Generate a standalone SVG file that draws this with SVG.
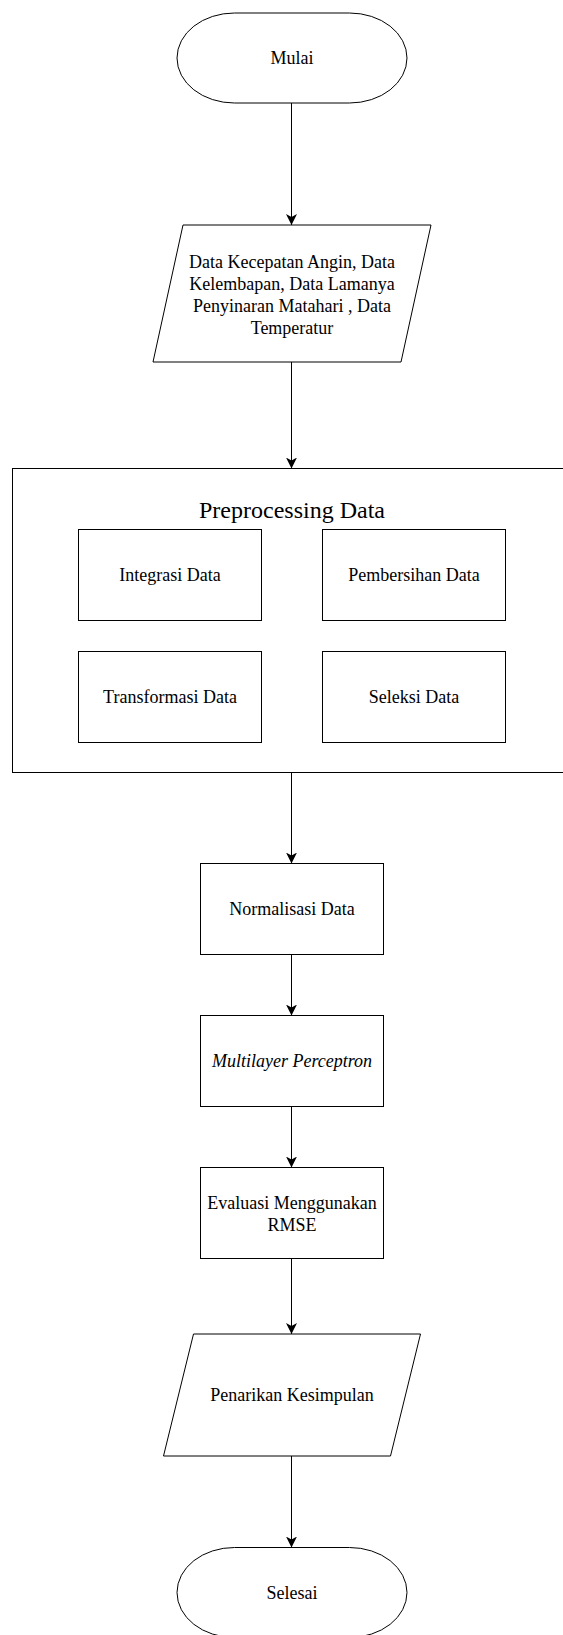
<svg xmlns="http://www.w3.org/2000/svg" width="563" height="1635" viewBox="0 0 563 1635">
  <style>
    .shape { fill: #ffffff; stroke: #000000; stroke-width: 1; }
    .label { font-family: "Liberation Serif", "Times New Roman", serif; font-size: 18px; fill: #000000; text-anchor: middle; }
    .title { font-family: "Liberation Serif", "Times New Roman", serif; font-size: 24px; fill: #000000; text-anchor: middle; }
    .edge { fill: none; stroke: #000000; stroke-width: 1; }
  </style>
  <defs>
    <marker id="arrow" viewBox="0 0 11 11" refX="11" refY="5.5" markerWidth="11" markerHeight="11" markerUnits="userSpaceOnUse" orient="auto">
      <path d="M0,0 L11,5.5 L0,11 L3,5.5 Z" fill="#000000"/>
    </marker>
  </defs>
  <rect x="0" y="0" width="563" height="1635" fill="#ffffff"/>

  <g id="mulai">
    <path class="shape" d="M234.5,13 L349.5,13 A57.5,45 0 0 1 349.5,103 L234.5,103 A57.5,45 0 0 1 234.5,13 Z"/>
    <text class="label" x="292" y="64">Mulai</text>
  </g>

  <g id="input-data">
    <polygon class="shape" points="183,225 431,225 401,362 153,362"/>
    <text class="label" x="292" y="267.5">Data Kecepatan Angin, Data</text>
    <text class="label" x="292" y="289.5">Kelembapan, Data Lamanya</text>
    <text class="label" x="292" y="311.5">Penyinaran Matahari , Data</text>
    <text class="label" x="292" y="333.5">Temperatur</text>
  </g>

  <g id="preprocessing">
    <rect class="shape" x="12.5" y="468.5" width="560" height="304"/>
    <text class="title" x="292" y="518">Preprocessing Data</text>
  </g>

  <g id="integrasi">
    <rect class="shape" x="78.5" y="529.5" width="183" height="91"/>
    <text class="label" x="170" y="581">Integrasi Data</text>
  </g>

  <g id="pembersihan">
    <rect class="shape" x="322.5" y="529.5" width="183" height="91"/>
    <text class="label" x="414" y="581">Pembersihan Data</text>
  </g>

  <g id="transformasi">
    <rect class="shape" x="78.5" y="651.5" width="183" height="91"/>
    <text class="label" x="170" y="703">Transformasi Data</text>
  </g>

  <g id="seleksi">
    <rect class="shape" x="322.5" y="651.5" width="183" height="91"/>
    <text class="label" x="414" y="703">Seleksi Data</text>
  </g>

  <g id="normalisasi">
    <rect class="shape" x="200.5" y="863.5" width="183" height="91"/>
    <text class="label" x="292" y="915">Normalisasi Data</text>
  </g>

  <g id="mlp">
    <rect class="shape" x="200.5" y="1015.5" width="183" height="91"/>
    <text class="label" x="292" y="1067" font-style="italic">Multilayer Perceptron</text>
  </g>

  <g id="evaluasi">
    <rect class="shape" x="200.5" y="1167.5" width="183" height="91"/>
    <text class="label" x="292" y="1208.5">Evaluasi Menggunakan</text>
    <text class="label" x="292" y="1230.5">RMSE</text>
  </g>

  <g id="kesimpulan">
    <polygon class="shape" points="193.5,1334 420.5,1334 390.5,1456 163.5,1456"/>
    <text class="label" x="292" y="1401">Penarikan Kesimpulan</text>
  </g>

  <g id="selesai">
    <path class="shape" d="M234.5,1547.5 L349.5,1547.5 A57.5,45 0 0 1 349.5,1637.5 L234.5,1637.5 A57.5,45 0 0 1 234.5,1547.5 Z"/>
    <text class="label" x="292" y="1598.5">Selesai</text>
  </g>

  <g id="connectors">
    <line class="edge" x1="291.5" y1="103" x2="291.5" y2="225" marker-end="url(#arrow)"/>
    <line class="edge" x1="291.5" y1="362" x2="291.5" y2="468.5" marker-end="url(#arrow)"/>
    <line class="edge" x1="291.5" y1="772.5" x2="291.5" y2="863.5" marker-end="url(#arrow)"/>
    <line class="edge" x1="291.5" y1="954.5" x2="291.5" y2="1015.5" marker-end="url(#arrow)"/>
    <line class="edge" x1="291.5" y1="1106.5" x2="291.5" y2="1167.5" marker-end="url(#arrow)"/>
    <line class="edge" x1="291.5" y1="1258.5" x2="291.5" y2="1334" marker-end="url(#arrow)"/>
    <line class="edge" x1="291.5" y1="1456" x2="291.5" y2="1547.5" marker-end="url(#arrow)"/>
  </g>
</svg>
